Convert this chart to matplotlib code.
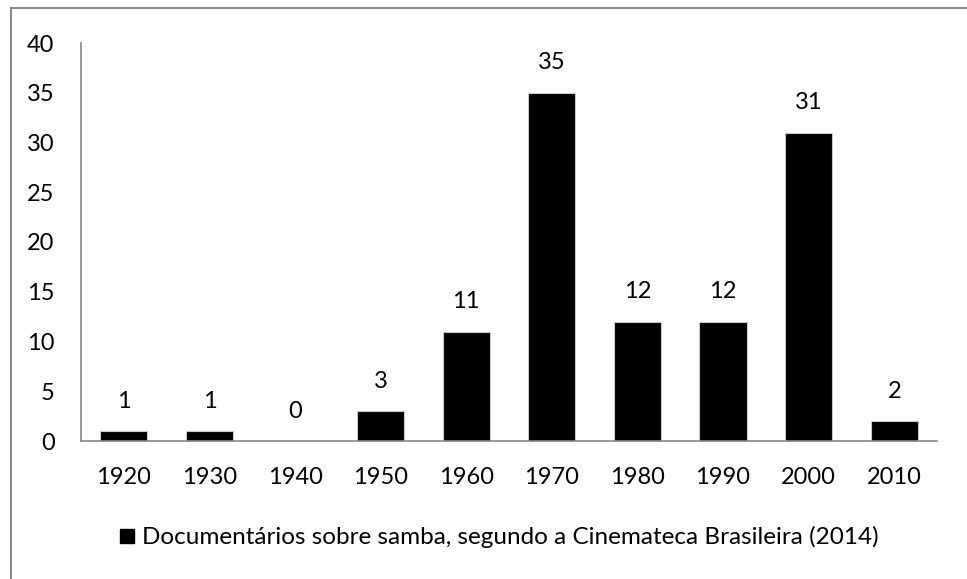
import matplotlib.pyplot as plt
from matplotlib.lines import Line2D

# -------------------------------
# Data
# -------------------------------

decades = ["1920", "1930", "1940", "1950", "1960",
           "1970", "1980", "1990", "2000", "2010"]
counts = [1, 1, 0, 3, 11, 35, 12, 12, 31, 2]
series_label = "Documentários sobre samba, segundo a Cinemateca Brasileira (2014)"
y_ticks = [0, 5, 10, 15, 20, 25, 30, 35, 40]

plt.rcParams["font.family"] = ["Lato", "DejaVu Sans"]

# -------------------------------
# Figure
# -------------------------------

W, H = 967, 579
fig = plt.figure(figsize=(W / 100, H / 100), dpi=100)
ax = fig.add_axes([81 / W, 1 - 441 / H, (937 - 81) / W, (441 - 43) / H])

x = list(range(len(decades)))
bars = ax.bar(x, counts, width=0.55, color="black", label=series_label,
              edgecolor="#c8c8c8", linewidth=0.8)

for xi, v in zip(x, counts):
    ax.annotate(str(v), (xi, v), xytext=(0, 14), textcoords="offset points",
                ha="center", va="bottom", fontsize=17)

ax.set_xlim(-0.5, len(decades) - 0.5)
ax.set_ylim(0, 40)
ax.set_yticks(y_ticks)
ax.set_xticks(x)
ax.set_xticklabels(decades)
ax.tick_params(axis="both", length=0, labelsize=17)
ax.tick_params(axis="x", pad=19)
ax.tick_params(axis="y", pad=19)

for side in ["top", "right"]:
    ax.spines[side].set_visible(False)
for side in ["left", "bottom"]:
    ax.spines[side].set_color("#888888")
    ax.spines[side].set_linewidth(1.2)

# legend
handle = Line2D([], [], marker="s", color="black", linestyle="none",
                markersize=10)
fig.legend([handle], [series_label], loc="center",
           bbox_to_anchor=(497 / W, 1 - 537 / H), frameon=False,
           fontsize=17.5, handletextpad=0.1, handlelength=1.0)

# outer border (top and left visible)
fig.add_artist(Line2D([11 / W, 11 / W], [0, 1 - 8 / H], transform=fig.transFigure,
                      color="#8a8a8a", linewidth=1.5))
fig.add_artist(Line2D([11 / W, 1], [1 - 8 / H, 1 - 8 / H], transform=fig.transFigure,
                      color="#8a8a8a", linewidth=1.5))

fig.savefig("out.png", dpi=100)
